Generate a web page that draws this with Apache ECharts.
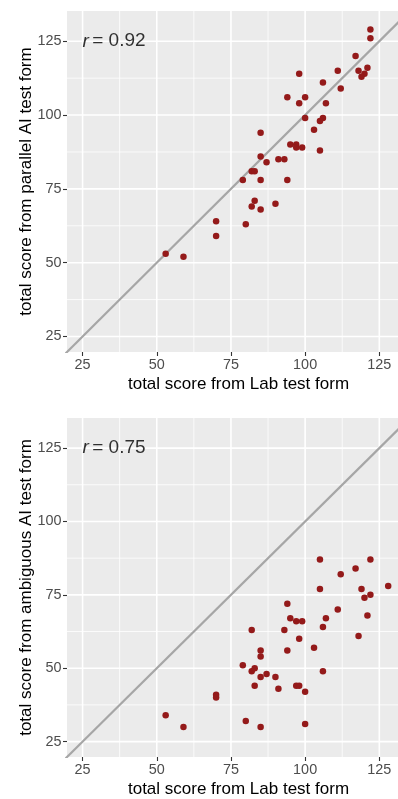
<!DOCTYPE html>
<html>
<head>
<meta charset="utf-8">
<script src="https://cdn.jsdelivr.net/npm/echarts@6/dist/echarts.min.js"></script>
<style>
html, body { margin: 0; padding: 0; background: #fff; }
#chart { width: 398px; height: 799px; }
</style>
</head>
<body>
<div id="chart"></div>
<script>
// lab score vs parallel AI form (top panel)
var parallelPts = [
    [122,129],[122,126],[117,120],[98,114],[111,115],[118,115],[121,116],[120,114],
    [119,113],[106,111],[112,109],[94,106],[100,106],[98,104],[107,104],[100,99],
    [106,99],[105,98],[103,95],[85,94],[95,90],[97,90],[97,89],[99,89],[105,88],
    [85,86],[91,85],[93,85],[87,84],[82,81],[83,81],[79,78],[85,78],[94,78],
    [83,71],[82,69],[85,68],[90,70],[70,64],[70,59],[80,63],[53,53],[59,52]
];
// lab score vs ambiguous AI form (bottom panel)
var ambiguousPts = [
    [105,87],[122,87],[117,84],[112,82],[128,78],[105,77],[119,77],[120,74],
    [122,75],[94,72],[111,70],[121,68],[95,67],[97,66],[99,66],[107,67],
    [106,64],[82,63],[93,63],[98,60],[118,61],[103,57],[85,56],[85,54],
    [94,56],[79,51],[82,49],[83,50],[106,49],[87,48],[85,47],[90,47],
    [83,44],[91,43],[97,44],[98,44],[100,42],[70,41],[70,40],[53,34],
    [59,30],[80,32],[85,30],[100,31]
];
var identityLine = [[0,0],[150,150]];
var rValues = ['0.92', '0.75'];
var yTitles = ['total score from parallel AI test form', 'total score from ambiguous AI test form'];
var xTitle = 'total score from Lab test form';
var tickVals = [25, 50, 75, 100, 125];
var minorVals = [37.5, 62.5, 87.5, 112.5];

var FONT = 'Liberation Sans, Arial, sans-serif';
var AX_MIN = 19.75, Y_MAX = 135.25, X_MAX = 131.3; // right side is cut off like the original
var grids = [
    {left: 67, top: 11, right: 0, height: 341},
    {left: 67, top: 418, right: 0, height: 341}
];

function makeAxis(idx, isX) {
    return {
        type: 'value',
        gridIndex: idx,
        min: AX_MIN, max: isX ? X_MAX : Y_MAX,
        name: isX ? xTitle : yTitles[idx],
        nameLocation: 'middle',
        nameMoveOverlap: false,
        nameGap: isX ? 24 : 32,
        nameTextStyle: {
            fontFamily: FONT, fontSize: 17, color: '#000',
            padding: isX ? [0, 0, 0, 12] : 0
        },
        axisLine: {show: false},
        axisTick: {
            show: true, length: 4,
            lineStyle: {color: '#333', width: 1.1},
            customValues: tickVals
        },
        axisLabel: {
            show: true, margin: isX ? 6 : 5.5,
            color: '#4D4D4D', fontFamily: FONT, fontSize: 14.4,
            customValues: tickVals
        },
        splitLine: {show: false}
    };
}

// panel grid lines (white), drawn as plain line series on the panel's axes
function gridSeries(i, v, width) {
    var out = [];
    [[[v, AX_MIN], [v, Y_MAX]], [[AX_MIN, v], [X_MAX, v]]].forEach(function (d) {
        out.push({
            type: 'line', xAxisIndex: i, yAxisIndex: i, data: d,
            showSymbol: false, silent: true, clip: true, z: 1,
            lineStyle: {color: '#fff', width: width}
        });
    });
    return out;
}

var xAxes = [], yAxes = [], series = [];
[parallelPts, ambiguousPts].forEach(function (pts, i) {
    xAxes.push(makeAxis(i, true));
    yAxes.push(makeAxis(i, false));
    minorVals.forEach(function (v) { series = series.concat(gridSeries(i, v, 0.8)); });
    tickVals.forEach(function (v) { series = series.concat(gridSeries(i, v, 1.6)); });
    series.push({
        type: 'line', xAxisIndex: i, yAxisIndex: i,
        data: identityLine, showSymbol: false, clip: true, silent: true,
        lineStyle: {color: '#A6A6A6', width: 2.2}, z: 20
    });
    series.push({
        type: 'scatter', xAxisIndex: i, yAxisIndex: i,
        data: pts, symbolSize: 6.5,
        itemStyle: {color: '#941A1A', opacity: 1}, z: 30
    });
    series.push({
        type: 'scatter', xAxisIndex: i, yAxisIndex: i,
        data: [[25, 125]], symbolSize: 0, silent: true,
        label: {
            show: true, position: 'right', distance: 0,
            formatter: '{i|r} {n|= ' + rValues[i] + '}',
            rich: {
                i: {fontStyle: 'italic', fontFamily: FONT, fontSize: 19, color: '#000'},
                n: {fontFamily: FONT, fontSize: 19, color: '#000'}
            }
        }, z: 40
    });
});

var chart = echarts.init(document.getElementById('chart'));
chart.setOption({
    backgroundColor: '#fff',
    animation: false,
    grid: grids.map(function (g) {
        return Object.assign({show: true, backgroundColor: '#EBEBEB', borderWidth: 0}, g);
    }),
    xAxis: xAxes,
    yAxis: yAxes,
    series: series
});
</script>
</body>
</html>
